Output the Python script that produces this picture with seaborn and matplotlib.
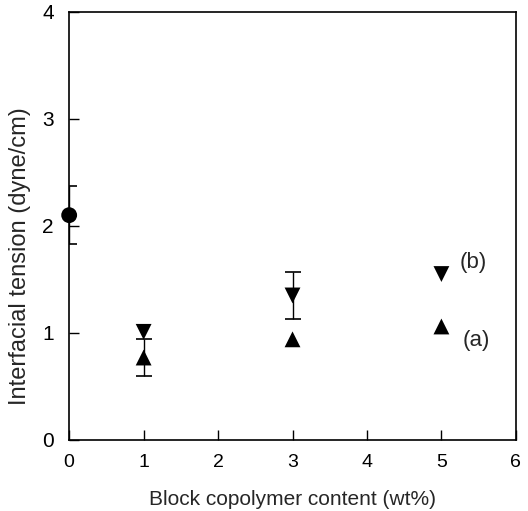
import matplotlib
matplotlib.use("Agg")
import matplotlib.pyplot as plt
import seaborn as sns
import pandas as pd

# Data
x_pure = [0]
y_pure = [2.10]
err_pure = [0.27]

x_b = [1, 3, 5]
y_b = [1.01, 1.35, 1.55]
err_b = [0.0, 0.22, 0.0]

x_a = [1, 3, 5]
y_a = [0.77, 0.94, 1.06]
err_a = [0.17, 0.0, 0.0]

xticks = [0, 1, 2, 3, 4, 5, 6]
yticks = [0, 1, 2, 3, 4]

sns.set_style("ticks")
plt.rcParams['font.family'] = ['Liberation Sans', 'DejaVu Sans']

fig = plt.figure(figsize=(5.28, 5.11), dpi=100)
ax = fig.add_axes([0.131, 0.139, 0.846, 0.838])

df = pd.concat([
    pd.DataFrame({"x": x_pure, "y": y_pure, "s": "pure"}),
    pd.DataFrame({"x": x_b, "y": y_b, "s": "b"}),
    pd.DataFrame({"x": x_a, "y": y_a, "s": "a"}),
])

for xs, ys, es in [(x_pure, y_pure, err_pure), (x_b, y_b, err_b), (x_a, y_a, err_a)]:
    for xv, yv, ev in zip(xs, ys, es):
        if ev > 0:
            ax.errorbar([xv], [yv], yerr=[ev], fmt='none', ecolor='black',
                        elinewidth=1.0, capsize=6, capthick=1.2, zorder=2)

sns.scatterplot(data=df, x="x", y="y", style="s", markers={"pure": "o", "b": "v", "a": "^"},
                color="black", s=130, edgecolor="black", linewidth=0, legend=False,
                ax=ax, zorder=3, clip_on=False)

ax.text(5.25, 1.66, "(b)", fontsize=16, ha="left", va="center")
ax.text(5.29, 0.93, "(a)", fontsize=16, ha="left", va="center")

ax.set_xlim(0, 6)
ax.set_ylim(0, 4)
ax.set_xticks(xticks)
ax.set_yticks(yticks)
ax.tick_params(direction="in", length=7, width=1, colors="black")
ax.tick_params(axis="x", labelsize=14, pad=10)
ax.tick_params(axis="y", labelsize=15, pad=11)
ax.set_xlabel("Block copolymer content (wt%)", fontsize=15, labelpad=14)
ax.set_ylabel("Interfacial tension (dyne/cm)", fontsize=17)
ax.yaxis.set_label_coords(-0.085, 0.43)
for sp in ax.spines.values():
    sp.set_visible(True)
    sp.set_linewidth(1.2)
    sp.set_color("black")

fig.savefig("out.png", dpi=100)
